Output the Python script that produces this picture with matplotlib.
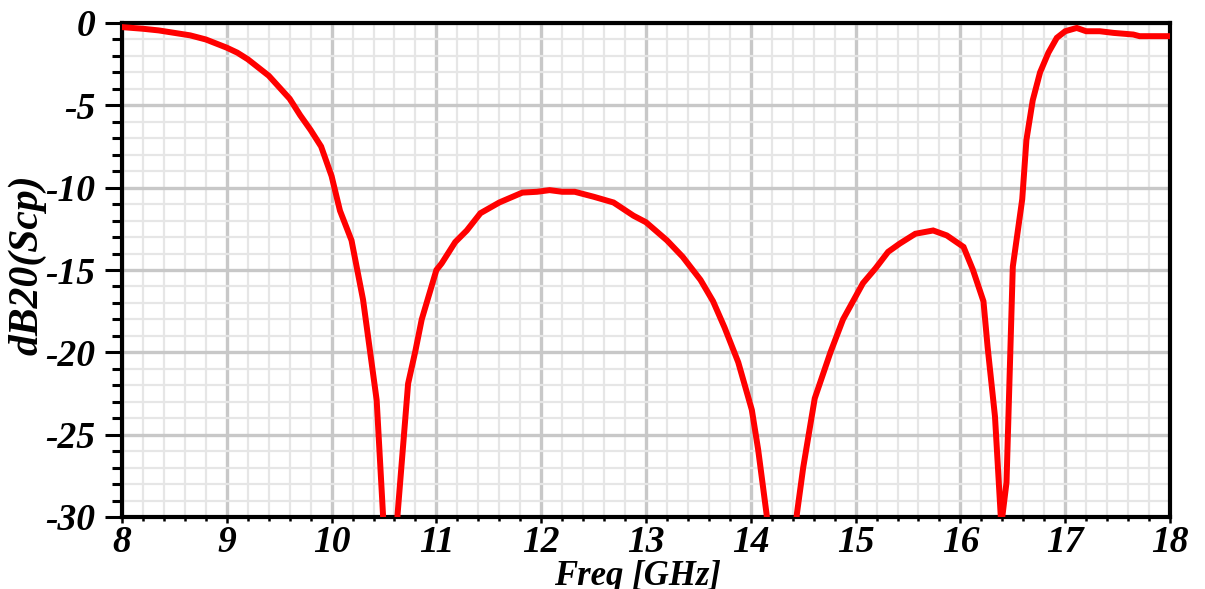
"""Scp magnitude vs frequency"""
import numpy as np
from matplotlib import pyplot as plt
from matplotlib.ticker import MultipleLocator

freq_ghz = [
    8.0, 8.2, 8.35, 8.5, 8.65, 8.8, 9.0, 9.1, 9.2, 9.3, 9.4, 9.5, 9.6, 9.7,
    9.8, 9.9, 10.0, 10.08, 10.19, 10.3, 10.43, 10.49, 10.55, 10.63, 10.73,
    10.8, 10.86, 11.0, 11.05, 11.18, 11.29, 11.42, 11.6, 11.82, 11.96, 12.08,
    12.2, 12.32, 12.5, 12.69, 12.88, 13.0, 13.2, 13.35, 13.52, 13.64, 13.75,
    13.88, 14.01, 14.07, 14.15, 14.3, 14.44, 14.5, 14.61, 14.76, 14.88,
    15.07, 15.19, 15.31, 15.42, 15.57, 15.74, 15.87, 16.03, 16.12, 16.22,
    16.26, 16.33, 16.39, 16.44, 16.5, 16.59, 16.63, 16.69, 16.76, 16.84,
    16.92, 17.0, 17.11, 17.2, 17.33, 17.46, 17.65, 17.71, 18.0,
]
scp_db = [
    -0.25, -0.35, -0.45, -0.6, -0.75, -1.0, -1.5, -1.8, -2.2, -2.7, -3.2,
    -3.9, -4.6, -5.6, -6.5, -7.5, -9.3, -11.4, -13.2, -16.8, -22.9, -29.8,
    -40.0, -29.8, -21.9, -19.9, -18.0, -15.0, -14.6, -13.3, -12.6, -11.55,
    -10.9, -10.3, -10.25, -10.15, -10.25, -10.25, -10.55, -10.9, -11.7,
    -12.1, -13.2, -14.2, -15.6, -16.9, -18.5, -20.6, -23.5, -25.9, -29.8,
    -40.0, -29.8, -27.0, -22.8, -20.0, -18.0, -15.8, -14.9, -13.9, -13.4,
    -12.8, -12.6, -12.9, -13.6, -15.0, -16.9, -19.7, -23.9, -30.5, -27.9,
    -14.8, -10.7, -7.1, -4.7, -3.0, -1.8, -0.9, -0.5, -0.3, -0.5, -0.5,
    -0.6, -0.7, -0.8, -0.8,
]

x_ticks = list(range(8, 19))
y_ticks = [0, -5, -10, -15, -20, -25, -30]

plt.rcParams["font.family"] = ["Liberation Serif", "DejaVu Serif"]
plt.rcParams["font.weight"] = "bold"
plt.rcParams["font.style"] = "italic"
plt.rcParams["axes.unicode_minus"] = False

fig = plt.figure(figsize=(12.05, 5.89), dpi=100)
ax = fig.add_axes([122 / 1205, 72 / 589, 1048 / 1205, 494 / 589])

ax.plot(freq_ghz, scp_db, color="#ff0000", lw=4.3, solid_joinstyle="miter",
        zorder=3)

ax.set_xlim(8, 18)
ax.set_ylim(-30, 0)
ax.set_xticks(x_ticks)
ax.set_yticks(y_ticks)
ax.xaxis.set_minor_locator(MultipleLocator(0.2))
ax.yaxis.set_minor_locator(MultipleLocator(1))

ax.grid(which="minor", color="#e6e6e6", lw=1.6, zorder=0)
ax.grid(which="major", color="#c8c8c8", lw=2.4, zorder=1)
ax.set_axisbelow(True)

for sp in ax.spines.values():
    sp.set_linewidth(3)
    sp.set_color("black")

ax.tick_params(axis="y", which="major", direction="out", length=12, width=2.2,
               pad=7, labelsize=27)
ax.tick_params(axis="y", which="minor", direction="out", length=7, width=2.2)
ax.tick_params(axis="x", which="major", direction="out", length=4, width=1.8,
               pad=2, labelsize=27)
ax.tick_params(axis="x", which="minor", direction="out", length=3, width=1.8)

ax.set_xlabel("Freq [GHz]", fontsize=25, fontweight="bold", style="italic")
ax.xaxis.set_label_coords(0.492, -0.087)
ax.set_ylabel("dB20(Scp)", fontsize=30, fontweight="bold", style="italic")
ax.yaxis.set_label_coords(-0.072, 0.51)

fig.savefig("out.png", dpi=100)
